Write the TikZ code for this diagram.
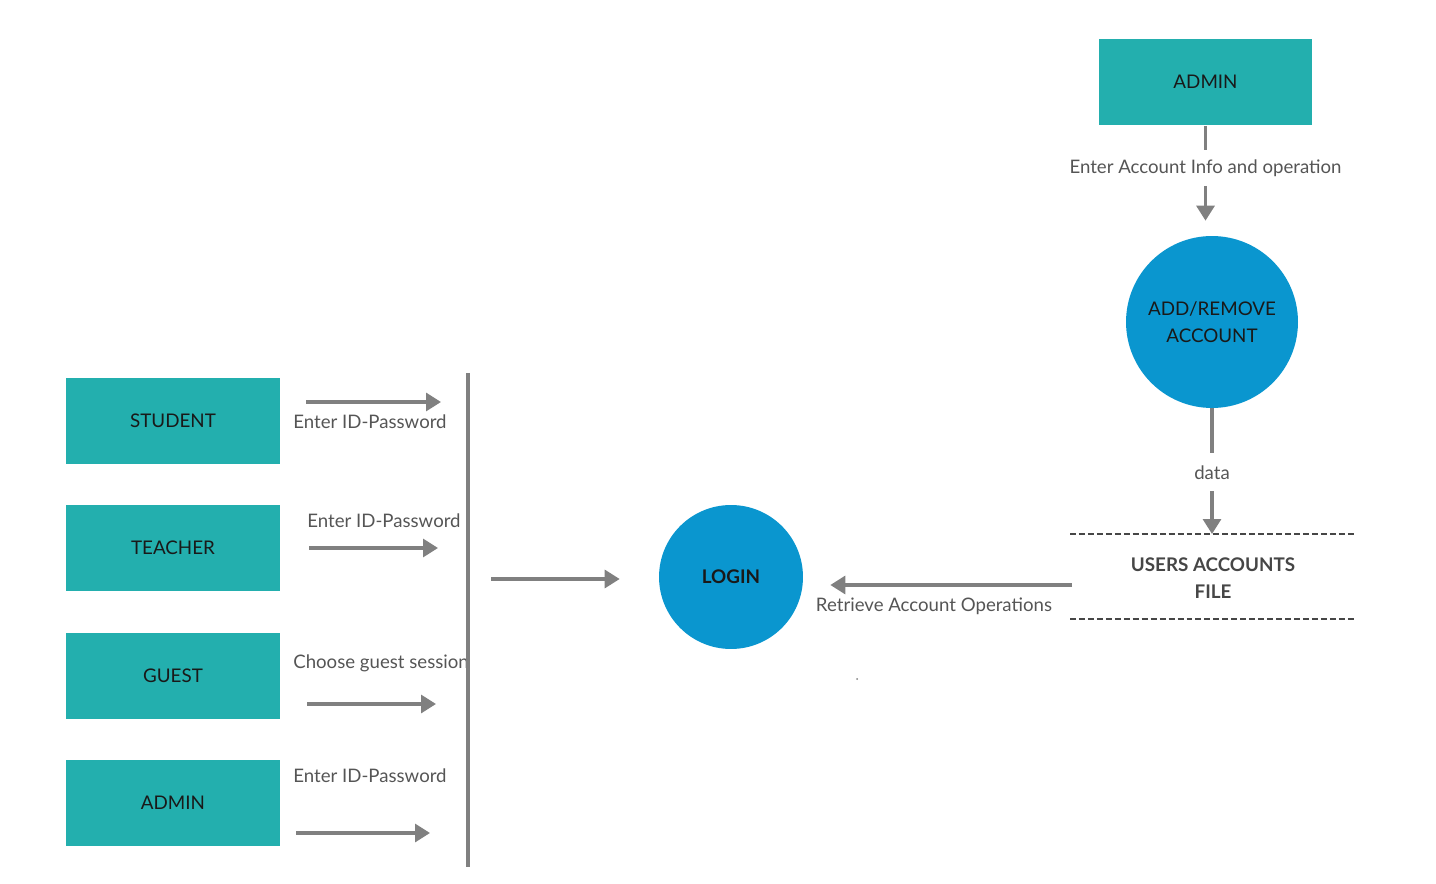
\documentclass[tikz,border=0pt]{standalone}
\usepackage{fontspec}
\setmainfont{Lato}
\usetikzlibrary{arrows.meta}
\definecolor{boxteal}{RGB}{35,175,174}
\definecolor{procblue}{RGB}{10,150,207}
\definecolor{flowgray}{RGB}{128,128,128}
\definecolor{labelgray}{RGB}{85,85,85}
\definecolor{filegray}{RGB}{70,70,70}
\begin{document}
\begin{tikzpicture}[x=0.02cm,y=-0.02cm,
  entity/.style={fill=boxteal,minimum width=4.28cm,minimum height=1.74cm,
    text=black!90,font=\fontsize{10.7}{12}\selectfont},
  process/.style={circle,fill=procblue,align=center,text=black!90,
    font=\fontsize{10.7}{15.3}\selectfont},
  flow/.style={draw=flowgray,line width=1.8pt,-{Triangle[length=3mm,width=3.6mm]}},
  flowline/.style={draw=flowgray,line width=1.8pt},
  lbl/.style={text=labelgray,inner sep=0pt,font=\fontsize{10.6}{12}\selectfont},
  store/.style={draw=filegray,line width=1.1pt,dash pattern=on 3.4pt off 1.7pt}]
\useasboundingbox (0,0) rectangle (1436,884);

% entities
\node[entity] (student) at (173,421) {STUDENT};
\node[entity] (teacher) at (173,548) {TEACHER};
\node[entity] (guest) at (173,676) {GUEST};
\node[entity] (admin) at (173,803) {ADMIN};
\node[entity] (admintop) at (1205.5,82) {ADMIN};

% processes
\node[process,minimum size=2.88cm,font=\fontsize{10.7}{12}\selectfont\bfseries] (login) at (731,577) {LOGIN};
\node[process,minimum size=3.44cm] (addrem) at (1212,322) {ADD/REMOVE\\ACCOUNT};

% data store
\node[text=filegray,align=center,font=\fontsize{10.7}{15.3}\selectfont\bfseries] (file) at (1213,578) {USERS ACCOUNTS\\FILE};
\draw[store] (1070,534) -- (1355,534);
\draw[store] (1070,619) -- (1355,619);
\coordinate (filetop) at (1212,534);
\coordinate (filewest) at (1072,585);

% labels
\node[lbl,anchor=west] (lstudent) at (293,422) {Enter ID-Password};
\node[lbl,anchor=west] (lteacher) at (307,521) {Enter ID-Password};
\node[lbl,anchor=west] (lguest) at (293,663) {Choose guest session};
\node[lbl,anchor=west] (ladmin) at (293,776) {Enter ID-Password};
\node[lbl,minimum height=0.7cm] (linfo) at (1205.5,168) {Enter Account Info and operation};
\node[lbl,minimum height=0.72cm] (ldata) at (1212,473) {data};
\node[lbl] (lretrieve) at (934,606) {Retrieve Account Operations};

% arrows into the bus
\coordinate (s1) at (306,402); \coordinate (s2) at (441,402);
\coordinate (t1) at (309,548); \coordinate (t2) at (438,548);
\coordinate (g1) at (307,704); \coordinate (g2) at (436,704);
\coordinate (a1) at (296,833); \coordinate (a2) at (430,833);
\draw[flow] (s1) -- (s2);
\draw[flow] (t1) -- (t2);
\draw[flow] (g1) -- (g2);
\draw[flow] (a1) -- (a2);

\coordinate (bustop) at (468,373);
\coordinate (busbot) at (468,867);
\draw[flowline] (bustop) -- (busbot);
\coordinate (busout) at (491,579);
\draw[flow,shorten >=0.78cm] (busout) -- (login.west |- busout);

% admin side
\draw[flowline] (admintop.south) -- (linfo.north);
\draw[flow,shorten >=0.3cm] (linfo.south) -- (linfo.south |- addrem.north);
\draw[flowline] (addrem.south) -- ([yshift=-45*0.02cm]addrem.south);
\draw[flow] (ldata.south) -- (filetop);
\draw[flow,shorten >=0.54cm] (filewest) -- (login.east |- filewest);

\fill[flowgray] (857,679) circle (1);
\end{tikzpicture}
\end{document}
